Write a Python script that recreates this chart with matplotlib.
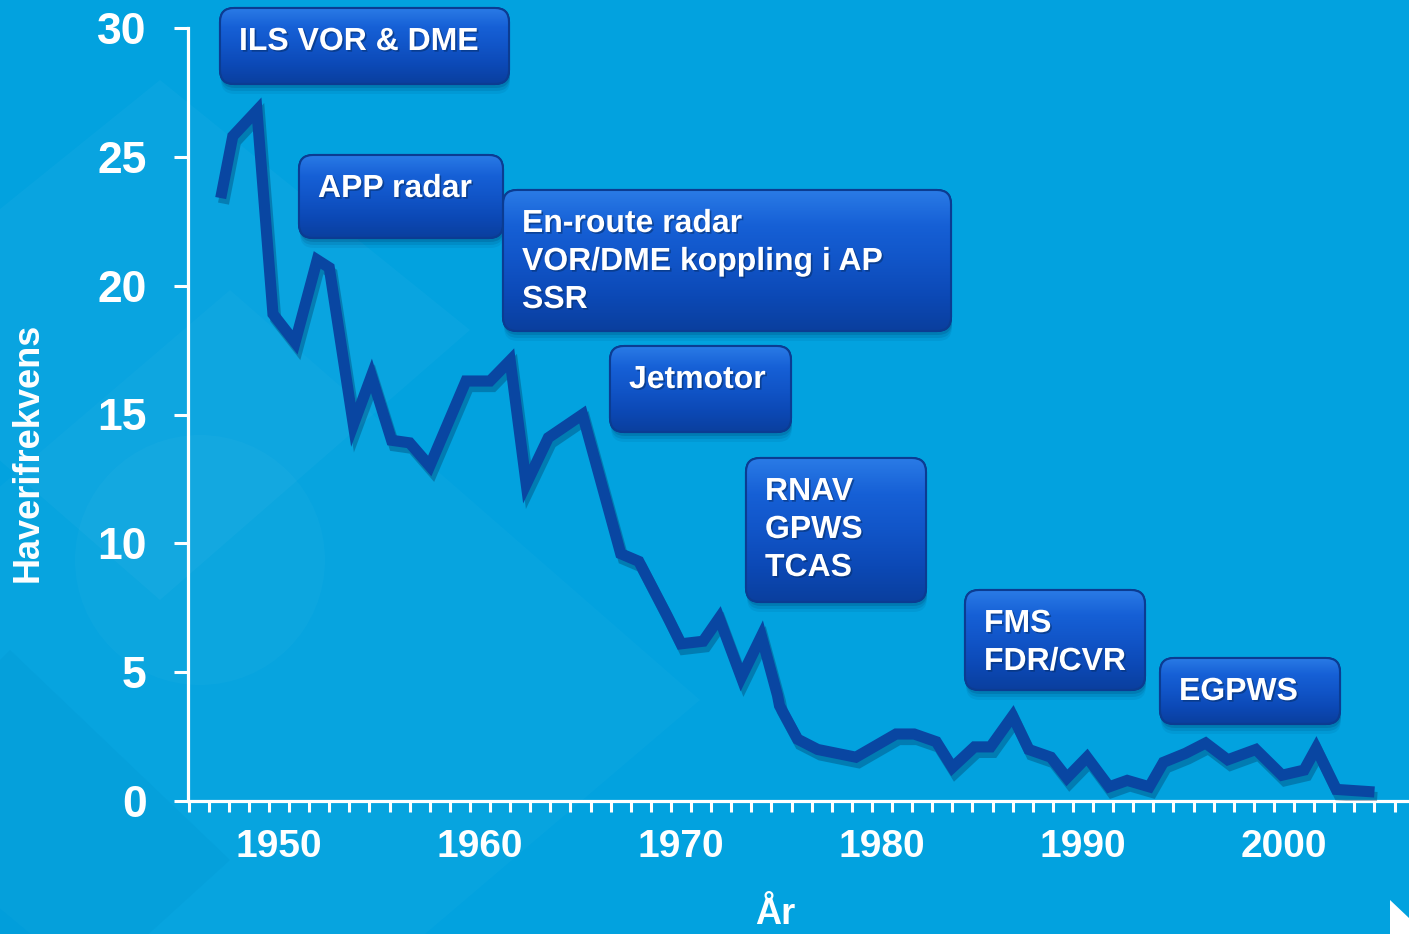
import numpy as np
import matplotlib
matplotlib.use("Agg")
import matplotlib.pyplot as plt
from matplotlib.patches import FancyBboxPatch, Polygon, Circle
from matplotlib.colors import LinearSegmentedColormap
import matplotlib.patheffects as pe

# ---------------- data ----------------
years = [1947.1, 1947.7, 1948.9, 1949.7, 1950.8, 1951.9, 1952.5, 1953.7, 1954.6,
         1955.6, 1956.5, 1957.5, 1959.3, 1960.5, 1961.5, 1962.3, 1963.4, 1965.1,
         1967.0, 1967.9, 1969.3, 1970.0, 1971.1, 1971.9, 1973.0, 1974.0, 1974.8,
         1974.9, 1975.8, 1976.8, 1978.7, 1980.7, 1981.6, 1982.7, 1983.5, 1984.6,
         1985.4, 1986.5, 1987.3, 1988.4, 1989.2, 1990.2, 1991.3, 1992.2, 1993.3,
         1994.0, 1995.1, 1996.1, 1997.2, 1998.6, 1999.9, 2001.0, 2001.6, 2002.6,
         2004.5]
freq = [23.4, 25.8, 26.8, 18.9, 17.8, 21.0, 20.7, 14.6, 16.5,
        14.0, 13.9, 13.0, 16.3, 16.3, 17.1, 12.3, 14.1, 15.0,
        9.6, 9.3, 7.2, 6.1, 6.2, 7.1, 4.8, 6.4, 4.1,
        3.7, 2.4, 2.0, 1.7, 2.6, 2.6, 2.3, 1.3, 2.1,
        2.1, 3.3, 2.0, 1.7, 0.9, 1.7, 0.55, 0.8, 0.55,
        1.5, 1.85, 2.25, 1.6, 2.0, 1.0, 1.2, 2.05, 0.45,
        0.35]
x_tick_years = [1950, 1960, 1970, 1980, 1990, 2000]
y_ticks = [0, 5, 10, 15, 20, 25, 30]
y_label = "Haverifrekvens"
x_label = "År"
box_lines = [["ILS VOR & DME"],
             ["APP radar"],
             ["En-route radar", "VOR/DME koppling i AP", "SSR"],
             ["Jetmotor"],
             ["RNAV", "GPWS", "TCAS"],
             ["FMS", "FDR/CVR"],
             ["EGPWS"]]

# ---------------- layout / style ----------------
W, H = 1409, 934
BG = "#02a2df"
LINE_C = "#0946a2"
FONT = ["Liberation Sans", "DejaVu Sans"]
plt.rcParams['font.family'] = FONT

box_px = [(220, 8, 509, 84), (299, 155, 503, 238), (503, 190, 951, 331),
          (610, 346, 791, 432), (746, 458, 926, 602), (965, 590, 1145, 690),
          (1160, 658, 1340, 724)]

fig = plt.figure(figsize=(W / 100, H / 100), dpi=100, facecolor=BG)

# background decoration (subtle lighter diamonds on the left)
bg = fig.add_axes([0, 0, 1, 1], zorder=0)
bg.set_xlim(0, W); bg.set_ylim(H, 0); bg.axis("off")
bg.add_patch(Polygon([(-150, 330), (160, 80), (470, 330), (160, 600)], closed=True,
                     fc="white", alpha=0.03, ec="none"))
bg.add_patch(Polygon([(-250, 700), (230, 290), (700, 700), (230, 1100)], closed=True,
                     fc="white", alpha=0.025, ec="none"))
bg.add_patch(Polygon([(-200, 860), (10, 650), (230, 860), (10, 1060)], closed=True,
                     fc="#0090cc", alpha=0.2, ec="none"))
bg.add_patch(Circle((200, 560), 125, fc="white", alpha=0.025, ec="none"))
bg.add_patch(Polygon([(1390, 900), (1409, 918), (1409, 934), (1390, 934)], closed=True,
                     fc="white", ec="none"))

# main axes
x_left_px, x_right_px = 188.3, 1409
y0_px, y30_px = 801, 28
px_per_year = 20.1
xmin = 1950 - (279 - x_left_px) / px_per_year
xmax = 1950 + (x_right_px - 279) / px_per_year
ax = fig.add_axes([x_left_px / W, (H - y0_px) / H, (x_right_px - x_left_px) / W,
                   (y0_px - y30_px) / H], zorder=1)
ax.set_facecolor("none")
ax.set_xlim(xmin, xmax)
ax.set_ylim(0, 30)

ax.plot(years, freq, color=LINE_C, lw=8, solid_joinstyle="miter",
        solid_capstyle="butt", zorder=3,
        path_effects=[pe.SimpleLineShadow(offset=(2, -4), shadow_color="#00365f",
                                          alpha=0.35),
                      pe.Normal()])

for s in ["top", "right"]:
    ax.spines[s].set_visible(False)
for s in ["left", "bottom"]:
    ax.spines[s].set_color("white")
    ax.spines[s].set_linewidth(2.3)
ax.spines["left"].set_bounds(0, 30)

ax.set_yticks(y_ticks)
ax.set_yticklabels([str(v) for v in y_ticks])
ax.tick_params(axis="y", colors="white", length=10, width=2.2, pad=20,
               labelsize=32)
ax.set_xticks(x_tick_years)
ax.set_xticklabels([str(v) for v in x_tick_years])
ax.set_xticks(np.arange(1945.5, 2006.0, 1.0), minor=True)
ax.tick_params(axis="x", which="major", colors="white", length=0, pad=20,
               labelsize=28)
ax.tick_params(axis="x", which="minor", colors="white", length=8, width=2.2)
for lab in ax.get_xticklabels() + ax.get_yticklabels():
    lab.set_fontweight("bold")

fig.text(28 / W, 1 - 452 / H, y_label, rotation=90, color="white",
         fontsize=26, fontweight="bold", ha="center", va="center")
fig.text(775 / W, 1 - 914 / H, x_label, color="white", fontsize=26,
         fontweight="bold", ha="center", va="center")

# annotation boxes
ov = fig.add_axes([0, 0, 1, 1], zorder=5)
ov.set_facecolor("none"); ov.axis("off")
cmap = LinearSegmentedColormap.from_list(
    "box", ["#2a7be6", "#1660d6", "#1155c8", "#0c49b6", "#0a3f9e"])
grad = np.linspace(0, 1, 256).reshape(-1, 1)
for (x0, y0, x1, y1), lines in zip(box_px, box_lines):
    r = 14
    # shadow
    for k, a in [(10, 0.08), (7, 0.12), (4, 0.18)]:
        sh = FancyBboxPatch((x0 + 3 + r - 2, y0 + k + r), x1 - x0 - 2 * r, y1 - y0 - 2 * r,
                            boxstyle=f"round,pad={r}", fc="#003060", ec="none",
                            alpha=a, zorder=1)
        ov.add_patch(sh)
    p = FancyBboxPatch((x0 + r, y0 + r), x1 - x0 - 2 * r, y1 - y0 - 2 * r,
                       boxstyle=f"round,pad={r}", fc="#1358c8", ec="#0b3c92",
                       lw=1.5, zorder=2)
    ov.add_patch(p)
    im = ov.imshow(grad, extent=[x0, x1, y1, y0], origin="upper", cmap=cmap,
                   aspect="auto", zorder=2.5, interpolation="bilinear")
    im.set_clip_path(p)
    hl = FancyBboxPatch((x0 + r, y0 + r), x1 - x0 - 2 * r, y1 - y0 - 2 * r,
                        boxstyle=f"round,pad={r}", fc="none", ec="#0b3c92",
                        lw=1.5, zorder=2.6)
    ov.add_patch(hl)
    for i, t in enumerate(lines):
        ov.text(x0 + 19, y0 + 42 + 38 * i, t, color="white", fontsize=23,
                fontweight="bold", ha="left", va="baseline", zorder=4,
                path_effects=[pe.withSimplePatchShadow(offset=(1.2, -1.2),
                                                       shadow_rgbFace="#06306e",
                                                       alpha=0.6)])
ov.set_xlim(0, W); ov.set_ylim(H, 0)

fig.savefig("out.png", dpi=100, facecolor=BG)
